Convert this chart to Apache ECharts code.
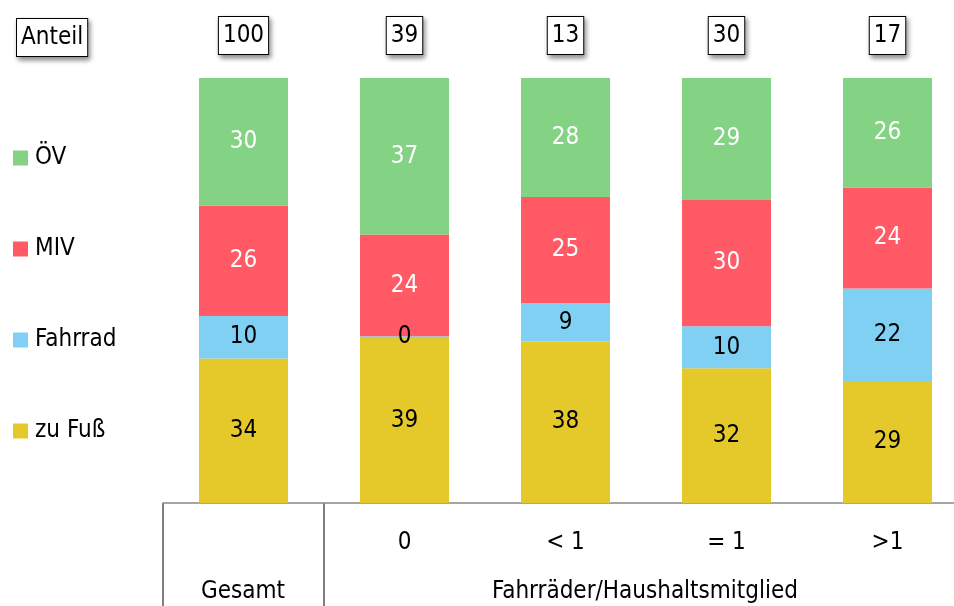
<!DOCTYPE html>
<html>
<head>
<meta charset="utf-8">
<script src="https://cdn.jsdelivr.net/npm/echarts@6/dist/echarts.min.js"></script>
<style>
  html, body { margin: 0; padding: 0; background: #fff; }
  #chart { width: 954px; height: 606px; }
</style>
</head>
<body>
<div id="chart"></div>
<script>
var catLabels = ['', '0', '< 1', '= 1', '>1'];
var totals = ['100', '39', '13', '30', '17'];
var zuFuss = [34, 39, 38, 32, 29];
var fahrrad = [10, 0.4, 9, 10, 22];
var miv = [26, 24, 25, 30, 24];
var oev = [30, 37, 28, 29, 26];

var font = "'DejaVu Sans Condensed', sans-serif";
var chart = echarts.init(document.getElementById('chart'));

var sums = zuFuss.map(function (v, i) { return v + fahrrad[i] + miv[i] + oev[i]; });
function share(arr) {
	return arr.map(function (v, i) { return { value: v / sums[i] * 100, raw: v }; });
}
function series(name, arr, color, textColor) {
	return {
		name: name,
		type: 'bar',
		stack: 'all',
		barWidth: 89,
		itemStyle: { color: color },
		label: {
			show: true,
			position: 'inside',
			color: textColor,
			fontFamily: font,
			fontSize: 24,
			formatter: function (p) { return Math.round(p.data.raw); }
		},
		data: share(arr)
	};
}

var boxStyle = {
	fontFamily: font,
	fontSize: 24,
	color: '#000',
	backgroundColor: '#fff',
	borderColor: '#000',
	borderWidth: 1,
	padding: [7, 4, 6, 4],
	shadowColor: 'rgba(0,0,0,0.45)',
	shadowBlur: 5,
	shadowOffsetX: 2,
	shadowOffsetY: 3
};

chart.setOption({
	animation: false,
	grid: { left: 163, top: 78, width: 805, height: 425, outerBoundsMode: 'none' },
	legend: {
		orient: 'vertical',
		left: 8,
		top: 141,
		itemWidth: 15,
		itemHeight: 15,
		itemGap: 67,
		icon: 'rect',
		textStyle: { fontFamily: font, fontSize: 24, color: '#000', padding: [0, 0, 0, 2] },
		data: ['ÖV', 'MIV', 'Fahrrad', 'zu Fuß']
	},
	xAxis: [
		{
			type: 'category',
			data: catLabels,
			position: 'bottom',
			axisLine: { lineStyle: { color: '#888', width: 1.5 } },
			axisTick: { length: 52, lineStyle: { color: '#000', width: 1 } },
			axisLabel: { margin: 28, fontFamily: font, fontSize: 24, color: '#000' }
		},
		{
			type: 'category',
			data: totals,
			position: 'top',
			axisLine: { show: false },
			axisTick: { show: false },
			axisLabel: Object.assign({ margin: 24 }, boxStyle)
		}
	],
	yAxis: { type: 'value', min: 0, max: 100, show: false },
	graphic: [
		{
			type: 'text',
			left: 16,
			top: 18,
			style: Object.assign({ text: 'Anteil' }, boxStyle)
		},
		{ type: 'line', shape: { x1: 163, y1: 503, x2: 163, y2: 606 }, style: { stroke: '#000', lineWidth: 1 } },
		{ type: 'line', shape: { x1: 324, y1: 503, x2: 324, y2: 606 }, style: { stroke: '#000', lineWidth: 1 } },
		{
			type: 'text',
			x: 243, y: 592,
			style: { text: 'Gesamt', fontFamily: font, fontSize: 24, fill: '#000', align: 'center', verticalAlign: 'middle' }
		},
		{
			type: 'text',
			x: 645, y: 592,
			style: { text: 'Fahrräder/Haushaltsmitglied', fontFamily: font, fontSize: 24, fill: '#000', align: 'center', verticalAlign: 'middle' }
		}
	],
	series: [
		series('zu Fuß', zuFuss, '#e5c82a', '#000'),
		series('Fahrrad', fahrrad, '#80d0f4', '#000'),
		series('MIV', miv, '#ff5a66', '#fff'),
		series('ÖV', oev, '#84d384', '#fff')
	]
});
</script>
</body>
</html>
